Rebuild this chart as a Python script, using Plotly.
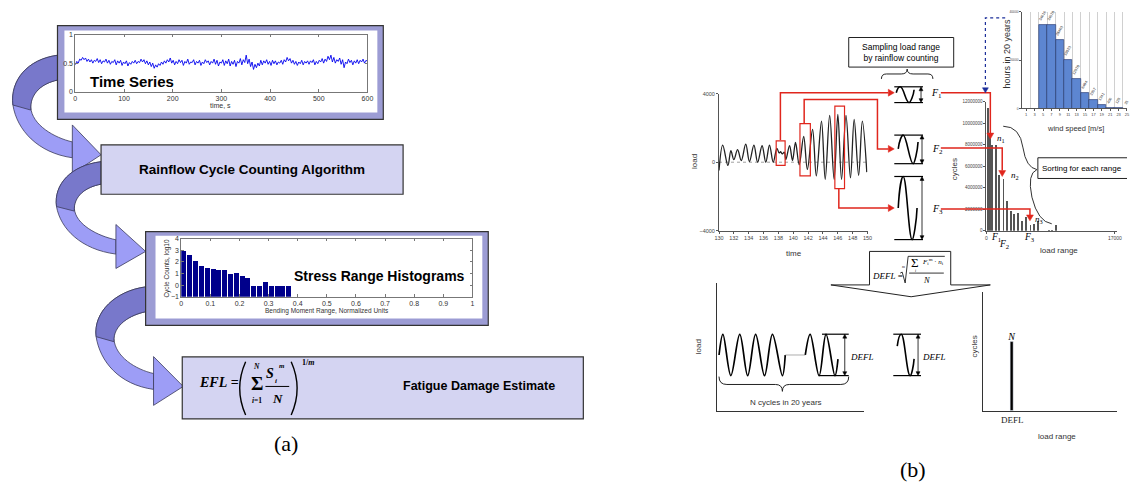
import plotly.graph_objects as go

W, H = 1133, 489
SANS = "Liberation Sans, Arial, sans-serif"
SERIF = "Liberation Serif, Times New Roman, serif"

# ---------------- data ----------------
# (a) normalised bending-moment time series, one sample every 3 s (0-600 s)
ts_values = [
    0.47, 0.53, 0.50, 0.57, 0.55, 0.60, 0.56, 0.59, 0.53, 0.57, 0.52, 0.56, 0.50, 0.55, 0.53, 0.58, 0.51, 0.56, 0.49, 0.54,
    0.52, 0.57, 0.50, 0.55, 0.48, 0.53, 0.51, 0.56, 0.47, 0.54, 0.50, 0.55, 0.46, 0.52, 0.49, 0.54, 0.45, 0.51, 0.48, 0.53,
    0.50, 0.55, 0.49, 0.53, 0.51, 0.57, 0.52, 0.56, 0.49, 0.54, 0.47, 0.52, 0.44, 0.50, 0.41, 0.47, 0.43, 0.49, 0.46, 0.52,
    0.48, 0.54, 0.50, 0.56, 0.52, 0.59, 0.50, 0.55, 0.47, 0.53, 0.49, 0.56, 0.51, 0.55, 0.46, 0.53, 0.50, 0.57, 0.48, 0.52,
    0.51, 0.56, 0.47, 0.53, 0.50, 0.55, 0.46, 0.52, 0.49, 0.56, 0.51, 0.54, 0.47, 0.53, 0.50, 0.57, 0.48, 0.55, 0.45, 0.52,
    0.50, 0.56, 0.46, 0.54, 0.49, 0.57, 0.45, 0.53, 0.48, 0.55, 0.44, 0.53, 0.50, 0.58, 0.47, 0.56, 0.51, 0.64, 0.49, 0.57,
    0.44, 0.52, 0.39, 0.48, 0.42, 0.50, 0.45, 0.55, 0.47, 0.54, 0.50, 0.56, 0.48, 0.53, 0.46, 0.55, 0.49, 0.54, 0.47, 0.52,
    0.50, 0.55, 0.48, 0.56, 0.52, 0.60, 0.54, 0.58, 0.50, 0.55, 0.48, 0.53, 0.46, 0.52, 0.49, 0.55, 0.47, 0.53, 0.50, 0.54,
    0.48, 0.54, 0.51, 0.56, 0.47, 0.53, 0.49, 0.55, 0.52, 0.58, 0.50, 0.57, 0.53, 0.62, 0.56, 0.64, 0.52, 0.60, 0.50, 0.56,
    0.53, 0.59, 0.48, 0.56, 0.42, 0.52, 0.49, 0.57, 0.51, 0.55, 0.47, 0.54, 0.50, 0.56, 0.49, 0.55, 0.52, 0.57, 0.50, 0.55,
    0.53,
]
ts_step = 3
ts_time = [i * ts_step for i in range(len(ts_values))]
ts_ticks = [0, 100, 200, 300, 400, 500, 600]

# (a) rainflow histogram: bin centres and log10 cycle counts
hist_bins = [0.01, 0.03, 0.05, 0.07, 0.09, 0.11, 0.13, 0.15, 0.17, 0.19,
             0.21, 0.23, 0.25, 0.27, 0.29, 0.31, 0.33, 0.35, 0.37]
hist_log_counts = [3.0, 2.6, 2.15, 1.7, 1.55, 1.45, 1.35, 1.35, 1.0, 1.1,
                   0.8, 0.65, 0.0, 0.0, 0.3, 0.0, 0.0, 0.0, 0.0]
hist_floor = -1

# (b) load history, turning points
load_time = [130.0, 130.5, 131.2, 131.6, 132.0, 132.5, 133.0, 133.6, 134.1, 134.7,
             135.2, 135.8, 136.3, 136.8, 137.3, 137.8, 138.1, 138.3, 138.5, 138.8,
             139.0, 139.5, 139.9, 140.3, 140.8, 141.4, 141.9, 142.6, 143.1, 143.8,
             144.3, 144.9, 145.5, 146.0, 146.5, 147.1, 147.7, 148.2, 148.8, 149.3, 149.9]
load_value = [-480, 1000, -190, 670, 150, 730, 100, 1050, 40, 1000,
              0, 960, 0, 1000, 0, 810, 540, 610, 480, 580,
              150, 960, 100, 1150, -150, 1500, -420, 1920, -800, 2400,
              -1000, 2730, -1000, 2790, -1000, 2730, -920, 2500, -770, 2400, -580]
load_time_ticks = [130, 132, 134, 136, 138, 140, 142, 144, 146, 148, 150]

# (b) cycle windows picked by rainflow counting: (t0, t1, load0, load1)
windows = [(137.7, 138.9, -190, 1250), (140.9, 142.3, -800, 2250), (145.6, 146.9, -1540, 3270)]

# (b) cycles per load range
range_bins = [220, 520, 785, 1310, 1740, 2310, 2750, 3270, 3700, 4270,
              4790, 5320, 5880, 6320, 6890, 8370, 8720, 9240]
range_cycles = [11400000, 8900000, 8000000, 8000000, 5200000, 4800000, 2800000, 1900000, 1600000, 1700000,
                900000, 1300000, 600000, 700000, 900000, 150000, 150000, 550000]
cycle_ticks = [0, 2000000, 4000000, 6000000, 8000000, 10000000, 12000000]

# (b) hours per wind-speed bin over 20 years
wind_speed = [5, 7, 9, 11, 13, 15, 17, 19, 21, 23, 25]
wind_hours = [34616, 34578, 28460, 19920, 12078, 6484, 3357, 1341, 406, 120, 35]
wind_ticks = [1, 3, 5, 7, 9, 11, 13, 15, 17, 19, 21, 23, 25]
hour_ticks = [0, 20000, 40000]

# (b) equivalent constant-amplitude history (cycle position, normalised load)
eq_pos_a = [0.12, 0.35, 0.82, 1.35, 1.82, 2.29, 2.82, 3.29, 3.88, 4.05]
eq_load_a = [0.0, 1.0, -1.0, 1.0, -1.0, 1.0, -1.0, 1.0, -1.0, 0.0]
eq_pos_b = [5.24, 5.53, 6.06, 6.47, 7.0, 7.18]
eq_load_b = [0.0, 1.0, -1.0, 1.0, -1.0, -0.2]
defl_range = [2.15]
defl_cycles = [0.58]

# ---------------- helpers ----------------
shapes, annotations = [], []


def dom(x0, x1, y0, y1):
    return [max(0, x0 / W), min(1, x1 / W)], [max(0, 1 - y1 / H), min(1, 1 - y0 / H)]


def rect(x0, y0, x1, y1, fill, line="#333", lw=1, layer="below", xref="x", yref="y"):
    shapes.append(dict(type="rect", xref=xref, yref=yref, x0=x0, y0=y0, x1=x1, y1=y1,
                       fillcolor=fill, line=dict(color=line, width=lw), layer=layer))


def path(d, fill=None, line="#333", lw=1, layer="below", dash="solid"):
    s = dict(type="path", xref="x", yref="y", path=d, layer=layer,
             line=dict(color=line, width=lw, dash=dash))
    if fill:
        s["fillcolor"] = fill
    shapes.append(s)


def seg(x0, y0, x1, y1, color="black", lw=1, layer="above", dash="solid"):
    shapes.append(dict(type="line", xref="x", yref="y", x0=x0, y0=y0, x1=x1, y1=y1,
                       line=dict(color=color, width=lw, dash=dash), layer=layer))


def head(x, y, direction, color, length=6, half=3.5):
    if direction == "right":
        d = f"M{x},{y} L{x-length},{y-half} L{x-length},{y+half} Z"
    elif direction == "down":
        d = f"M{x},{y} L{x-half},{y-length} L{x+half},{y-length} Z"
    else:  # up
        d = f"M{x},{y} L{x-half},{y+length} L{x+half},{y+length} Z"
    path(d, fill=color, line=color, lw=0.5, layer="above")


def text(x, y, s, size, family=SANS, color="black", angle=0, xanchor="center"):
    annotations.append(dict(x=x, y=y, xref="x", yref="y", text=s, showarrow=False,
                            font=dict(size=size, family=family, color=color),
                            textangle=angle, xanchor=xanchor, yanchor="middle"))


def ribbon(xs, ys, xl, xb, xt, yt):
    """Curled flow arrow leaving a box at (xs, ys) and pointing to (xt, yt)."""
    h = yt - ys

    def Y(f):
        return round(ys + f * h, 1)

    light = (f"M{xs},{ys} C{xs-30},{Y(.04)} {xl-3},{Y(.25)} {xl},{Y(.5)} "
             f"C{xl+4},{Y(.75)} {xb-35},{Y(.98)} {xb},{Y(1.03)} "
             f"L{xb},{Y(.87)} C{xb-18},{Y(.83)} {xl+19},{Y(.70)} {xl+18},{Y(.52)} "
             f"C{xl+17},{Y(.38)} {xs-15},{Y(.28)} {xs},{Y(.25)} Z")
    dark = (f"M{xs},{ys} C{xs-30},{Y(.04)} {xl-3},{Y(.25)} {xl},{Y(.5)} "
            f"L{xl+18},{Y(.55)} C{xl+17},{Y(.38)} {xs-15},{Y(.28)} {xs},{Y(.25)} Z")
    tip = f"M{xb},{Y(.70)} L{xt},{yt} L{xb},{Y(1.19)} Z"
    path(light, fill="#9d9df6", line="#3a3a5a", lw=0.8)
    path(dark, fill="#7878cb", line="#3a3a5a", lw=0.8)
    path(tip, fill="#9d9df6", line="#3a3a5a", lw=0.8)


def cycle_glyph(x0, x1, ytop, ybot, start, top, bot, end, xarrow):
    seg(x0, ytop, x1, ytop, lw=1.2)
    seg(x0, ybot, x1, ybot, lw=1.2)
    sx, sy = start
    tx, ty = top
    bx, by = bot
    ex, ey = end
    d = (f"M{sx},{sy} C{sx+1},{sy-(sy-ty)*0.6} {tx-1.5},{ty} {tx},{ty} "
         f"C{tx+3.5},{ty} {bx-3.5},{by} {bx},{by} "
         f"C{bx+1.5},{by} {ex-0.5},{ey+(by-ey)*0.4} {ex},{ey}")
    path(d, line="black", lw=1.6, layer="above")
    seg(xarrow, ytop + 3, xarrow, ybot - 3, lw=0.8)
    head(xarrow, ytop, "up", "black", length=4, half=2)
    head(xarrow, ybot, "down", "black", length=4, half=2)


# ---------------- panel (a) ----------------
ribbon(53, 52, 8, 68, 97, 153)
ribbon(97, 160, 52, 112, 142, 251)
ribbon(142, 287, 92, 150, 180, 388)

rect(53, 22, 382, 117, "#9c9cd4", line="#333", lw=1.2)
rect(60, 27, 376, 110, "white", line="white", lw=0)
rect(97, 143, 402, 193, "#d4d4f2", line="#333", lw=1.2)
rect(142, 231, 488, 326, "#9c9cd4", line="#333", lw=1.2)
rect(152, 235, 482, 319, "white", line="white", lw=0)
rect(179, 358, 584, 421, "#d4d4f2", line="#333", lw=1.2)

text(128, 79, "<b>Time Series</b>", 15)
text(218, 103, "time, s", 7, color="#333")
text(249, 168, "<b>Rainflow Cycle Counting Algorithm</b>", 13.5)
text(378, 276, "<b>Stress Range Histograms</b>", 14)
text(325, 311, "Bending Moment Range, Normalized Units", 6.5, color="#333")
text(164, 268, "Cycle Counts, log10", 6.5, color="#333", angle=-90)

# EFL formula
text(216, 384, "<b><i>EFL</i> =</b>", 14, family=SERIF)
path("M243,363 Q231,390 243,417", line="black", lw=1.4, layer="above")
path("M289,363 Q301,390 289,417", line="black", lw=1.4, layer="above")
text(254, 385, "<b>Σ</b>", 19, family=SERIF)
text(254, 368, "<b><i>N</i></b>", 7.5, family=SERIF)
text(254, 402, "<b><i>i</i>=1</b>", 7.5, family=SERIF)
text(268, 375, "<b><i>S</i></b>", 14, family=SERIF)
text(274, 382, "<b><i>i</i></b>", 7, family=SERIF)
text(280, 367, "<b><i>m</i></b>", 7, family=SERIF)
seg(263, 388, 287, 388, lw=1)
text(275, 400, "<b><i>N</i></b>", 13, family=SERIF)
text(306, 364, "<b>1/<i>m</i></b>", 8, family=SERIF)
text(479, 388, "<b>Fatigue Damage Estimate</b>", 12.5)
text(284, 446, "(a)", 22, family=SERIF)

# ---------------- panel (b) ----------------
RED = "#e0261d"
# rainflow windows on the load history
for t0, t1, l0, l1 in windows:
    rect(t0, l0, t1, l1, "rgba(0,0,0,0)", line=RED, lw=1.2, layer="above", xref="x4", yref="y4")
shapes.append(dict(type="line", xref="x4", yref="y4", x0=130, x1=150, y0=0, y1=0,
                   line=dict(color="#888", width=0.8, dash="dot"), layer="below"))

# connectors from the windows to the cycle glyphs
path("M783,138 L783,90 L892,90", line=RED, lw=1.5, layer="above")
head(898, 90, "right", RED)
path("M807,121 L807,97 L881,97 L881,147 L892,147", line=RED, lw=1.5, layer="above")
head(898, 147, "right", RED)
path("M842,187 L842,207 L892,207", line=RED, lw=1.5, layer="above")
head(898, 207, "right", RED)

# connectors from the glyphs to the histogram
path("M945,90 L995,90 L995,131", line=RED, lw=1.5, layer="above")
head(995, 137, "down", RED)
path("M945,146 L1007,146 L1007,169", line=RED, lw=1.5, layer="above")
head(1007, 175, "down", RED)
path("M945,208 L1035,208 L1035,214", line=RED, lw=1.5, layer="above")
head(1035, 220, "down", RED)

# wind distribution feeds the cycle count
path("M1010,14 L990,14 L990,84", line="#1d2f9a", lw=1.2, layer="above", dash="dot")
head(990, 90, "down", "#1d2f9a", length=5, half=3)

# rainflow sampling box and brace
rect(852, 34, 958, 64, "white", line="#222", lw=1, layer="above")
text(905, 49, "Sampling load range<br>by rainflow counting", 8.5)
path("M885,76 Q885,71 890,71 L905,71 Q911,71 911,66 Q911,71 917,71 L932,71 Q937,71 937,76",
     line="#222", lw=1, layer="above")

cycle_glyph(898, 927, 84, 100, (900, 90), (904, 84), (913, 100), (918, 87), 925)
cycle_glyph(898, 927, 133, 162, (902, 147), (907, 133), (917, 162), (922, 140), 926)
cycle_glyph(898, 927, 175, 239, (902, 207), (907, 175), (916, 239), (921, 207), 926)
text(933, 91, "<i>F</i><sub>1</sub>", 10, family=SERIF, xanchor="left")
text(934, 148, "<i>F</i><sub>2</sub>", 10, family=SERIF, xanchor="left")
text(934, 208, "<i>F</i><sub>3</sub>", 10, family=SERIF, xanchor="left")

text(696, 160, "load", 8, color="#333", angle=-90)
text(797, 253, "time", 8, color="#333")

# histogram annotations
text(959, 168, "cycles", 8, color="#333", angle=-90)
text(1064, 250, "load range", 8, color="#333")
text(1006, 136, "<i>n</i><sub>1</sub>", 9, family=SERIF)
text(1020, 174, "<i>n</i><sub>2</sub>", 9, family=SERIF)
text(1044, 219, "<i>n</i><sub>3</sub>", 9, family=SERIF)
text(1001, 237, "<i>F</i><sub>1</sub>", 9.5, family=SERIF)
text(1009, 244, "<i>F</i><sub>2</sub>", 9.5, family=SERIF)
text(1035, 237, "<i>F</i><sub>3</sub>", 9.5, family=SERIF)

path("M1008,124 Q1025,124 1028,146 Q1031,166 1042,168 Q1032,172 1037,196 Q1043,221 1057,223",
     line="#333", lw=1, layer="above")
rect(1043, 156, 1134, 177, "white", line="#222", lw=1, layer="above")
text(1088, 167, "Sorting for each range", 8)

text(1012, 50, "hours in 20 years", 9, color="#333", angle=-90)
text(1081, 126, "wind speed [m/s]", 7.5, color="#333")

# equivalent-load formula block
path("M873,251 L955,251 L955,285 L995,285 L915,297 L834,285 L873,285 Z",
     fill="white", line="#222", lw=1, layer="above")
text(891, 276, "<i>DEFL</i> =", 9, family=SERIF)
path("M904,273 L906,272 L909,283 L912,256 L949,256", line="black", lw=0.8, layer="above")
text(907, 266, "<i>m</i>", 4, family=SERIF)
text(919, 262, "Σ", 13, family=SERIF)
text(919, 270, "<i>i</i>", 4, family=SERIF)
text(937, 261, "<i>F</i><sub>i</sub><sup>m</sup> · <i>n</i><sub>i</sub>", 7, family=SERIF)
seg(913, 273, 948, 273, lw=0.8)
text(931, 280, "<i>N</i>", 8.5, family=SERIF)

# equivalent load: lower-left sketch
seg(825, 335, 852, 335, lw=1.2)
seg(822, 377, 852, 377, lw=1.2)
seg(848, 338, 848, 374, lw=0.8)
head(848, 335, "up", "black", length=4, half=2)
head(848, 377, "down", "black", length=4, half=2)
text(865, 358, "<i>DEFL</i>", 9, family=SERIF)
path("M721,378 Q721,386 729,386 L778,386 Q785,386 785,393 Q785,386 792,386 L844,386 Q852,386 852,378",
     line="#222", lw=1, layer="above")
text(789, 404, "N cycles in 20 years", 8, color="#333")
text(700, 348, "load", 8, color="#333", angle=-90)

cycle_glyph(897, 925, 335, 377, (901, 347), (905, 335), (914, 377), (918, 360), 922)
text(938, 358, "<i>DEFL</i>", 9, family=SERIF)

text(979, 348, "cycles", 8, color="#333", angle=-90)
text(1062, 439, "load range", 8, color="#333")
text(917, 472, "(b)", 22, family=SERIF)

# ---------------- figure ----------------
fig = go.Figure()
fig.add_trace(go.Scatter(x=[0], y=[0], mode="markers", marker=dict(opacity=0),
                         hoverinfo="skip", xaxis="x", yaxis="y"))

fig.add_trace(go.Scatter(x=ts_time, y=ts_values, mode="lines",
                         line=dict(color="#0000ee", width=0.9), xaxis="x2", yaxis="y2"))

fig.add_trace(go.Bar(x=hist_bins, y=[v - hist_floor for v in hist_log_counts],
                     base=[hist_floor] * len(hist_bins), width=0.0172,
                     marker=dict(color="#00008b", line=dict(width=0)),
                     xaxis="x3", yaxis="y3"))

fig.add_trace(go.Scatter(x=load_time, y=load_value, mode="lines",
                         line=dict(color="#222", width=1.3, shape="spline", smoothing=1.0),
                         xaxis="x4", yaxis="y4"))

fig.add_trace(go.Bar(x=range_bins, y=range_cycles, width=95,
                     marker=dict(color="#555", line=dict(width=0)), xaxis="x5", yaxis="y5"))

fig.add_trace(go.Bar(x=wind_speed, y=wind_hours, width=2,
                     marker=dict(color="#5d86d1", line=dict(color="#223366", width=0.6)),
                     text=[str(v) for v in wind_hours], textposition="outside",
                     textangle=-60, textfont=dict(size=3.8, color="#222", family=SANS),
                     constraintext="none", cliponaxis=False, xaxis="x6", yaxis="y6"))

fig.add_trace(go.Scatter(x=eq_pos_a, y=eq_load_a, mode="lines",
                         line=dict(color="black", width=1.7, shape="spline", smoothing=1.0),
                         xaxis="x7", yaxis="y7"))
fig.add_trace(go.Scatter(x=[eq_pos_a[-1], eq_pos_b[0]], y=[eq_load_a[-1], eq_load_b[0]], mode="lines",
                         line=dict(color="#999", width=0.8), xaxis="x7", yaxis="y7"))
fig.add_trace(go.Scatter(x=eq_pos_b, y=eq_load_b, mode="lines",
                         line=dict(color="black", width=1.7, shape="spline", smoothing=1.0),
                         xaxis="x7", yaxis="y7"))

fig.add_trace(go.Bar(x=defl_range, y=defl_cycles, width=0.2, marker=dict(color="black"),
                     text=["<i>N</i>"], textposition="outside", constraintext="none",
                     textfont=dict(family=SERIF, size=10, color="black"),
                     cliponaxis=False, xaxis="x8", yaxis="y8"))

layout = dict(
    width=W, height=H, margin=dict(l=0, r=0, t=0, b=0),
    paper_bgcolor="white", plot_bgcolor="rgba(0,0,0,0)", showlegend=False,
    bargap=0,
    xaxis=dict(domain=[0, 1], range=[0, W], visible=False, fixedrange=True),
    yaxis=dict(domain=[0, 1], range=[H, 0], visible=False, fixedrange=True),
)

matlab = dict(showline=True, linecolor="#777", linewidth=0.8, mirror="ticks", ticks="inside",
              ticklen=3, tickcolor="#777", showgrid=False, zeroline=False,
              tickfont=dict(size=7, family=SANS, color="#333"))
plain = dict(showline=True, linecolor="#555", linewidth=0.9, ticks="outside", ticklen=2,
             tickcolor="#555", showgrid=False, zeroline=False,
             tickfont=dict(size=5.5, family=SANS, color="#444"))
bare = dict(showline=True, linecolor="#333", linewidth=1, ticks="", showgrid=False,
            zeroline=False, showticklabels=False)


def place(n, x0, x1, y0, y1, xa, ya):
    xd, yd = dom(x0, x1, y0, y1)
    layout[f"xaxis{n}"] = dict(domain=xd, anchor=f"y{n}", **xa)
    layout[f"yaxis{n}"] = dict(domain=yd, anchor=f"x{n}", **ya)


place(2, 71, 366, 31, 89,
      dict(matlab, range=[0, 600], tickvals=ts_ticks),
      dict(matlab, range=[0, 1], tickvals=[0, 0.5, 1]))
place(3, 178, 472, 238, 297,
      dict(matlab, range=[0, 1], dtick=0.1, tick0=0),
      dict(matlab, range=[-1, 4], dtick=1, tick0=-1))
place(4, 721, 871, 91, 230,
      dict(plain, range=[130, 150], tickvals=load_time_ticks),
      dict(plain, range=[-4000, 4000], tickvals=[-4000, 0, 4000]))
place(5, 991, 1123, 99, 230,
      dict(plain, range=[0, 17300], tickvals=[0, 17000], ticktext=["0", "17000"],
           tickfont=dict(size=5, family=SANS, color="#444")),
      dict(plain, range=[0, 12000000], tickvals=cycle_ticks, ticktext=[str(v) for v in cycle_ticks],
           tickfont=dict(size=4.5, family=SANS, color="#444")))
place(6, 1027, 1133, 8, 106,
      dict(plain, range=[0, 25], tickvals=wind_ticks, tickfont=dict(size=4, family=SANS, color="#444"),
           minor=dict(tickvals=[2, 4, 6, 8, 10, 12, 14, 16, 18, 20, 22, 24], showgrid=True,
                      gridcolor="#d0d0d0", gridwidth=0.6, ticks="")),
      dict(plain, range=[0, 40000], tickvals=hour_ticks, ticktext=[str(v) for v in hour_ticks],
           tickfont=dict(size=3.2, family=SANS, color="#444")))
place(7, 719, 867, 283, 413,
      dict(bare, range=[0, 8.7]),
      dict(bare, range=[-2.71, 3.48]))
place(8, 988, 1123, 292, 413,
      dict(bare, range=[0, 10], showticklabels=True, tickvals=defl_range, ticktext=["DEFL"],
           tickfont=dict(size=9, family=SERIF, color="#222")),
      dict(bare, range=[0, 1]))

layout["shapes"] = shapes
layout["annotations"] = annotations
fig.update_layout(**layout)
fig.write_html("out.html")
